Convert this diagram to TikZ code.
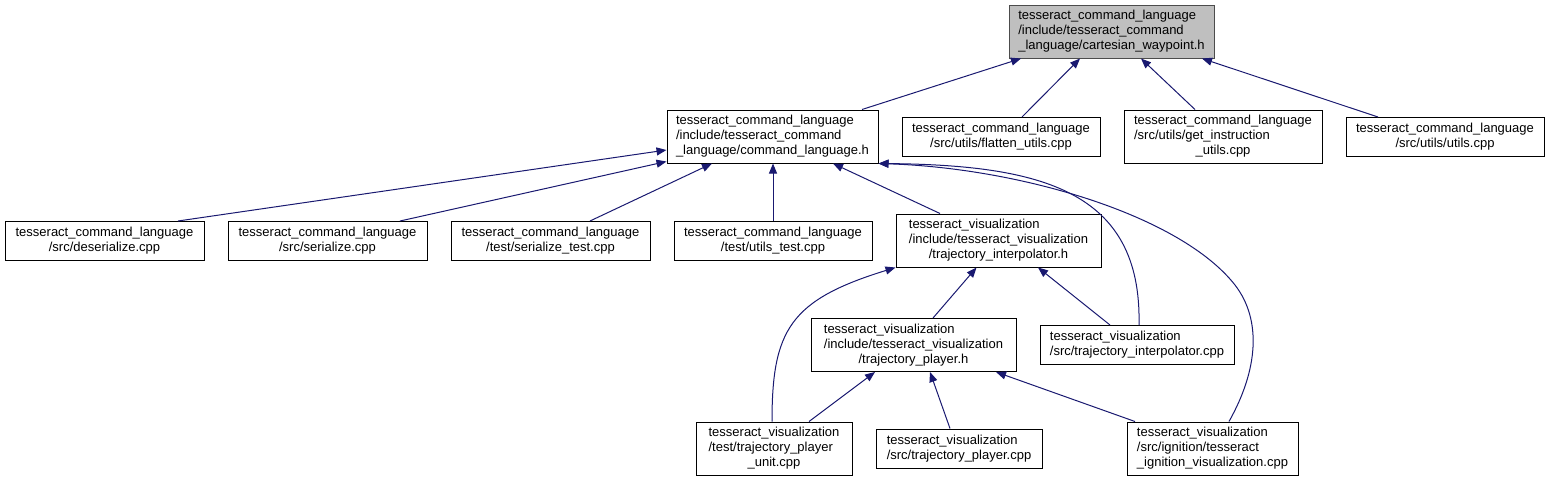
\documentclass[tikz,border=0pt]{standalone}
\usepackage{fontspec}
\setmainfont{Liberation Sans}
\usetikzlibrary{arrows.meta,calc}
\newcommand{\lbl}[2]{\begin{tabular}{@{}l@{}}#1\\\multicolumn{1}{@{}c@{}}{#2}\end{tabular}}
\definecolor{edgeblue}{RGB}{25,25,112}
\begin{document}
\begin{tikzpicture}[x=1pt,y=-1pt,
  box/.style={draw=black, line width=1pt, fill=white, inner sep=0pt, rectangle,
    font=\fontsize{13}{15}\selectfont, minimum height=39pt},
  tall/.style={minimum height=53pt},
  root/.style={fill=black!25, draw=black!70},
  edge/.style={draw=edgeblue, line width=1pt, {Triangle[length=10pt,width=8pt]}-}]
\useasboundingbox (0,0) rectangle (1551,483);
\renewcommand{\arraystretch}{1}
% nodes
\node[box,tall,root,minimum width=205pt] (A) at (1111.5,31.5) {\lbl{tesseract\_command\_language\\/include/tesseract\_command}{\_language/cartesian\_waypoint.h}};
\node[box,tall,minimum width=211pt] (B) at (772.5,136.5) {\lbl{tesseract\_command\_language\\/include/tesseract\_command}{\_language/command\_language.h}};
\node[box,minimum width=198pt] (C) at (1001,137) {\lbl{tesseract\_command\_language}{/src/utils/flatten\_utils.cpp}};
\node[box,tall,minimum width=198pt] (D) at (1223,136.5) {\lbl{tesseract\_command\_language\\/src/utils/get\_instruction}{\_utils.cpp}};
\node[box,minimum width=198pt] (E) at (1445,137) {\lbl{tesseract\_command\_language}{/src/utils/utils.cpp}};
\node[box,minimum width=199pt] (F) at (104.5,241) {\lbl{tesseract\_command\_language}{/src/deserialize.cpp}};
\node[box,minimum width=199pt] (G) at (327.5,241) {\lbl{tesseract\_command\_language}{/src/serialize.cpp}};
\node[box,minimum width=199pt] (H) at (550.5,241) {\lbl{tesseract\_command\_language}{/test/serialize\_test.cpp}};
\node[box,minimum width=198pt] (I) at (773,241) {\lbl{tesseract\_command\_language}{/test/utils\_test.cpp}};
\node[box,tall,minimum width=205pt] (J) at (998.5,240.5) {\lbl{tesseract\_visualization\\/include/tesseract\_visualization}{/trajectory\_interpolator.h}};
\node[box,tall,minimum width=205pt] (K) at (913.5,345) {\lbl{tesseract\_visualization\\/include/tesseract\_visualization}{/trajectory\_player.h}};
\node[box,minimum width=194pt] (L) at (1137,345) {\lbl{tesseract\_visualization}{/src/trajectory\_interpolator.cpp}};
\node[box,tall,minimum width=156pt] (M) at (774,448.5) {\lbl{tesseract\_visualization\\/test/trajectory\_player}{\_unit.cpp}};
\node[box,minimum width=166pt] (N) at (959,448.5) {\lbl{tesseract\_visualization}{/src/trajectory\_player.cpp}};
\node[box,tall,minimum width=171pt] (O) at (1212.5,448.5) {\lbl{tesseract\_visualization\\/src/ignition/tesseract}{\_ignition\_visualization.cpp}};
% edges to A
\draw[edge] ($(A.south)+(-90.5,0)$) -- ($(B.north)+(89.5,0)$);
\draw[edge] ($(A.south)+(-31.5,0)$) -- ($(C.north)+(21,0)$);
\draw[edge] ($(A.south)+(29.5,0)$) -- ($(D.north)+(-28,0)$);
\draw[edge] ($(A.south)+(90.5,0)$) -- ($(E.north)+(-67,0)$);
% edges to B
\draw[edge] ($(B.west)+(0,13.5)$) -- ($(F.north)+(73.5,0)$);
\draw[edge] ($(B.south west)+(0,-2)$) -- ($(G.north)+(72.5,0)$);
\draw[edge] ($(B.south)+(-60.5,0)$) -- ($(H.north)+(39.5,0)$);
\draw[edge] (I.north |- B.south) -- (I.north);
\draw[edge] ($(B.south)+(60.5,0)$) -- ($(J.north)+(-58.5,0)$);
\draw[edge] (B.south east) .. controls (1040,165) and (1142,190) .. ($(L.north)+(2,0)$);
\draw[edge] (B.south east) .. controls (1020,168) and (1180,215) .. (1235,285)
  .. controls (1262,320) and (1258,370) .. ($(O.north)+(16.5,0)$);
% edges to J
\draw[edge] (J.south west) .. controls (790,300) and (772,330) .. ($(M.north)+(-2,0)$);
\draw[edge] ($(J.south)+(-22,0)$) -- ($(K.north)+(19.5,0)$);
\draw[edge] ($(J.south)+(39.5,0)$) -- ($(L.north)+(-27,0)$);
% edges to K
\draw[edge] ($(K.south)+(-38.5,0)$) -- ($(M.north)+(35,0)$);
\draw[edge] ($(K.south)+(16.5,0)$) -- ($(N.north)+(-9,0)$);
\draw[edge] ($(K.south)+(82.5,0)$) -- ($(O.north)+(-77.5,0)$);
\end{tikzpicture}
\end{document}
